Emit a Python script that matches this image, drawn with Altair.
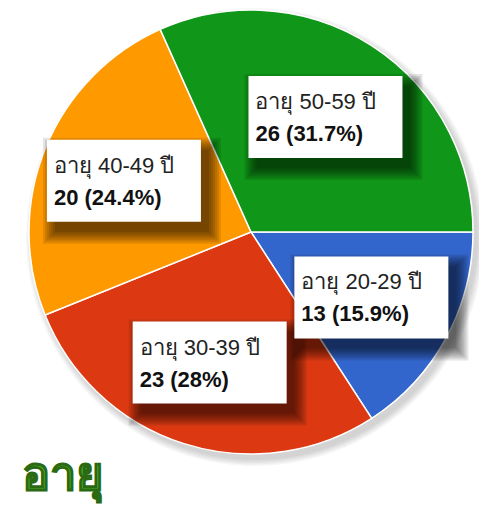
import math
import altair as alt
import pandas as pd

# ---- data ----
groups = ["อายุ 20-29 ปี", "อายุ 30-39 ปี", "อายุ 40-49 ปี", "อายุ 50-59 ปี"]
counts = [13, 23, 20, 26]
percents = ["15.9%", "28%", "24.4%", "31.7%"]
colors = ["#3366CC", "#DC3912", "#FF9900", "#109618"]
title_text = "อายุ"

df = pd.DataFrame({"group": groups, "count": counts, "pct": percents, "order": list(range(len(groups)))})
df["line2"] = df["count"].astype(str) + " (" + df["pct"] + ")"
title_df = pd.DataFrame({"t": [title_text]})

# ---- layout (pixels, chart coordinates) ----
W, H = 471, 504
CX, CY, R = 243, 224, 222
START = math.pi / 2
LR = 137
BW, BH = 154, 82
FONT = "Liberation Sans, Arial, sans-serif"

base = alt.Chart(df)

theta = alt.Theta("count:Q", stack=True,
                  scale=alt.Scale(range=[START, START + 2 * math.pi]))

# soft shadow under the pie
pie_shadows = []
for i in range(5):
    pie_shadows.append(
        base.mark_arc(x=CX + 4, y=CY + 5, outerRadius=R + 1 + i * 1.5,
                      color="#000000", opacity=0.035).encode(theta=theta, order=alt.Order("order:Q"))
    )

pie = base.mark_arc(x=CX, y=CY, outerRadius=R, stroke="white", strokeWidth=1.5).encode(
    theta=theta,
    color=alt.Color("group:N", scale=alt.Scale(domain=groups, range=colors), legend=None),
    order=alt.Order("order:Q"),
)

lab = (
    base.transform_window(cum="sum(count)", sort=[alt.SortField("order")], frame=[None, 0])
    .transform_joinaggregate(total="sum(count)")
    .transform_calculate(mid=f"{START} + 2*PI*(datum.cum - datum.count/2)/datum.total")
    .transform_calculate(lx=f"{CX} + {LR}*sin(datum.mid)", ly=f"{CY} - {LR}*cos(datum.mid)")
)

def box_layer(dx, dy, grow, **mk):
    return lab.transform_calculate(
        bx1=f"datum.lx - {BW/2} + {dx} - {grow}",
        bx2=f"datum.lx + {BW/2} + {dx} + {grow}",
        by1=f"datum.ly - {BH/2} + {dy} - {grow}",
        by2=f"datum.ly + {BH/2} + {dy} + {grow}",
    ).mark_rect(**mk).encode(
        x=alt.X("bx1:Q", scale=None), x2="bx2:Q",
        y=alt.Y("by1:Q", scale=None), y2="by2:Q",
    )

box_shadows = [box_layer(8, 10, g, color="#000000", opacity=0.1) for g in (0, 2, 4, 6, 8, 10, 12)]
boxes = box_layer(0, 0, 0, color="#ffffff")

text1 = lab.transform_calculate(tx=f"datum.lx - {BW/2} + 7", ty="datum.ly - 15").mark_text(
    align="left", baseline="middle", fontSize=22, font=FONT, color="#222222"
).encode(x=alt.X("tx:Q", scale=None), y=alt.Y("ty:Q", scale=None), text="group:N")

text2 = lab.transform_calculate(tx=f"datum.lx - {BW/2} + 7", ty="datum.ly + 17").mark_text(
    align="left", baseline="middle", fontSize=22, fontWeight="bold", font=FONT, color="#111111"
).encode(x=alt.X("tx:Q", scale=None), y=alt.Y("ty:Q", scale=None), text="line2:N")

title = alt.Chart(title_df).mark_text(
    x=14, y=482, align="left", baseline="alphabetic", fontSize=47, fontWeight="bold",
    font=FONT, fill="#4fb52b", stroke="#2a6a12", strokeWidth=1.3
).encode(text="t:N")

chart = alt.layer(
    *pie_shadows, pie, *box_shadows, boxes, text1, text2, title
).properties(
    width=W, height=H, autosize=alt.AutoSizeParams(type="none"), padding=0
).configure_view(stroke=None)

chart.save("out.html", embed_options={"renderer": "svg", "actions": False})
